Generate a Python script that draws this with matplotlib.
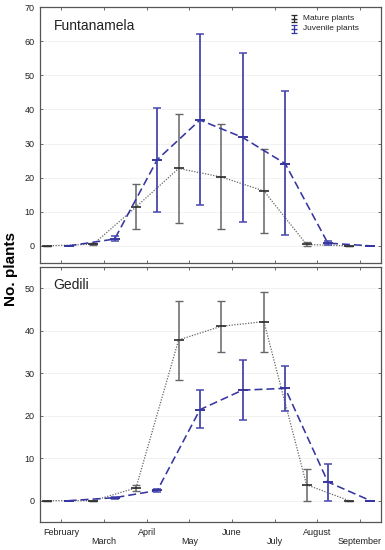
import numpy as np
import matplotlib
matplotlib.use("Agg")
import matplotlib.pyplot as plt

plt.rcParams["font.family"] = ["Liberation Sans", "DejaVu Sans"]

months = ["February", "March", "April", "May", "June", "July", "August", "September"]

# sampling positions (in month units, February = 0)
x_mature = [-0.33, 0.75, 1.75, 2.75, 3.75, 4.75, 5.75, 6.75]
x_juv = [0.17, 1.25, 2.25, 3.25, 4.25, 5.25, 6.25, 7.25]

# Funtanamela
f_mature = [0, 0.5, 11.4, 22.7, 20.2, 16.1, 0.4, 0]
f_mature_lo = [0, 0.3, 5.0, 6.7, 4.8, 3.9, 0.0, 0]
f_mature_hi = [0, 0.8, 18.0, 38.8, 35.7, 28.5, 1.0, 0]
f_juv = [0, 2.0, 25.3, 36.9, 31.8, 24.1, 0.8, 0]
f_juv_lo = [0, 1.3, 10.0, 12.0, 6.9, 3.3, 0.2, 0]
f_juv_hi = [0, 2.8, 40.5, 62.2, 56.7, 45.3, 1.5, 0]

# Gedili
g_mature = [0, 0, 3.0, 37.8, 41.0, 42.1, 3.75, 0]
g_mature_lo = [0, 0, 2.3, 28.4, 35.0, 35.0, 0.0, 0]
g_mature_hi = [0, 0, 3.8, 47.0, 47.0, 49.0, 7.4, 0]
g_juv = [0, 0.7, 2.4, 21.4, 26.0, 26.4, 4.4, 0]
g_juv_lo = [0, 0.5, 2.1, 17.0, 19.0, 21.0, 0.0, 0]
g_juv_hi = [0, 0.9, 2.7, 26.0, 33.0, 31.7, 8.6, 0]

BLACK = "#2a2a2a"
GRAY = "#666666"
BLUE = "#3636a0"
BLUE_ERR = "#4848ad"
FRAME = "#555555"


def draw_panel(ax, title, m, mlo, mhi, j, jlo, jhi, ylim, yticks):
    m, mlo, mhi = map(np.array, (m, mlo, mhi))
    j, jlo, jhi = map(np.array, (j, jlo, jhi))
    ax.grid(axis="y", color="#f0f0f0", lw=0.6)
    ax.set_axisbelow(True)
    ax.plot(x_mature, m, ls=(0, (1, 1.2)), color=GRAY, lw=0.9)
    ax.errorbar(x_mature, m, yerr=[m - mlo, mhi - m], fmt="none",
                ecolor=GRAY, elinewidth=1.1, capsize=3, capthick=1.0)
    ax.plot(x_mature, m, ls="none", marker="_", ms=7, mew=1.2, color=BLACK)
    ax.plot(x_juv, j, ls=(0, (5, 2.5)), color=BLUE, lw=1.15)
    ax.errorbar(x_juv, j, yerr=[j - jlo, jhi - j], fmt="none",
                ecolor=BLUE_ERR, elinewidth=1.3, capsize=3, capthick=1.1)
    ax.plot(x_juv, j, ls="none", marker="_", ms=7, mew=1.4, color=BLUE)
    ax.set_xlim(-0.5, 7.5)
    ax.set_ylim(*ylim)
    ax.set_yticks(yticks)
    ax.set_xticks(range(len(months)))
    ax.tick_params(direction="in", length=2.5, width=0.6, color=FRAME,
                   top=True, right=True, labelsize=6.5, pad=4,
                   labelcolor="#222222")
    for s in ax.spines.values():
        s.set_color(FRAME)
        s.set_linewidth(0.9)
    ax.text(0.04, 0.955, title, transform=ax.transAxes, fontsize=10,
            va="top", ha="left", color="#222222")


fig = plt.figure(figsize=(3.85, 5.5), dpi=100)
ax1 = fig.add_axes([0.104, 0.522, 0.886, 0.465])
ax2 = fig.add_axes([0.104, 0.051, 0.886, 0.464])

draw_panel(ax1, "Funtanamela", f_mature, f_mature_lo, f_mature_hi,
           f_juv, f_juv_lo, f_juv_hi, (-5, 70), range(0, 71, 10))
draw_panel(ax2, "Gedili", g_mature, g_mature_lo, g_mature_hi,
           g_juv, g_juv_lo, g_juv_hi, (-5, 55), range(0, 51, 10))

ax1.set_xticklabels([])
labels = [name if i % 2 == 0 else "\n" + name for i, name in enumerate(months)]
ax2.set_xticklabels(labels, fontsize=6.5, linespacing=1.1)

# legend
lx, ly = 0.745, 0.955
for k, (lab, col) in enumerate([("Mature plants", BLACK), ("Juvenile plants", BLUE)]):
    yy = ly - k * 0.04
    ax1.errorbar([lx], [yy], yerr=[[0.015], [0.015]], fmt="_", ms=5,
                 color=col, ecolor=col, elinewidth=0.9, capsize=2.5,
                 capthick=0.9, transform=ax1.transAxes, clip_on=False)
    ax1.text(lx + 0.025, yy, lab, transform=ax1.transAxes, fontsize=6,
             va="center", ha="left", color="#222222")

fig.text(0.028, 0.51, "No. plants", rotation=90, fontsize=11,
         fontweight="bold", va="center", ha="center")

fig.savefig("out.png", dpi=100, facecolor="white")
